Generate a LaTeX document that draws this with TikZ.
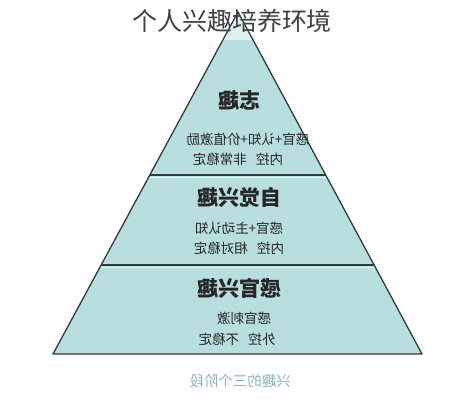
\documentclass[tikz,border=0pt]{standalone}
\usepackage{fontspec}
\usepackage{graphicx}
\usetikzlibrary{calc}
\newfontfamily\cjk{Noto Sans CJK SC}
\definecolor{tierfill}{HTML}{B9DEE0}
\definecolor{tiptint}{HTML}{DDEFF0}
\definecolor{edgecol}{HTML}{333B3B}
\definecolor{capcol}{HTML}{8DB3B6}
\newcommand{\mirr}[1]{\scalebox{-1}[1]{#1}}
\tikzset{
  heading/.style={font=\cjk\bfseries\fontsize{21}{24}\selectfont, text=black!85, inner sep=0pt},
  subline/.style={font=\cjk\fontsize{13.5}{15}\selectfont, text=black!85, inner sep=0pt},
  edgeline/.style={draw=edgecol, line width=1.3pt, line join=round},
  divline/.style={draw=edgecol, line width=1.2pt},
}
\begin{document}
\begin{tikzpicture}[x=1pt,y=-1pt]
\useasboundingbox (0,0) rectangle (464,400);
\coordinate (A) at (238,12);
\coordinate (BL) at (53,354);
\coordinate (BR) at (422,354);
\coordinate (L1) at ($(A)!0.4766!(BL)$);
\coordinate (R1) at ($(A)!0.4766!(BR)$);
\coordinate (L2) at ($(A)!0.7398!(BL)$);
\coordinate (R2) at ($(A)!0.7398!(BR)$);
\coordinate (LT) at ($(A)!0.0819!(BL)$);
\coordinate (RT) at ($(A)!0.0819!(BR)$);
\fill[tierfill] (A) -- (BL) -- (BR) -- cycle;
\fill[tiptint] (A) -- (LT) -- (RT) -- cycle;
% dividers
\draw[white, line width=1pt, opacity=0.7] ($(L1)+(0,2.2)$) -- ($(R1)+(0,2.2)$);
\draw[white, line width=1pt, opacity=0.7] ($(L2)+(0,2.2)$) -- ($(R2)+(0,2.2)$);
\draw[divline] (L1) -- (R1);
\draw[divline] (L2) -- (R2);
\draw[edgeline] (A) -- (BL) -- (BR) -- cycle;
% title
\node[font=\cjk\fontsize{25}{28}\selectfont, text=black!75, inner sep=0pt] (title) at (232,21) {个人兴趣培养环境};
% top tier
\node[heading] (h1) at (239,101) {\mirr{志趣}};
\node[subline] (s1a) at (248,139) {\mirr{感官+认知+价值激励}};
\node[subline] (s1b) at (238,159) {\mirr{内控\hspace{0.7em}非常稳定}};
% middle tier
\node[heading] (h2) at (239,197) {\mirr{自觉兴趣}};
\node[subline] (s2a) at (239,228) {\mirr{感官+主动认知}};
\node[subline] (s2b) at (239,248) {\mirr{内控\hspace{0.7em}相对稳定}};
% bottom tier
\node[heading] (h3) at (239,288) {\mirr{感官兴趣}};
\node[subline] (s3a) at (244,318) {\mirr{感官刺激}};
\node[subline] (s3b) at (237,339) {\mirr{外控\hspace{0.7em}不稳定}};
% caption
\node[font=\cjk\fontsize{14.5}{16}\selectfont, text=capcol, inner sep=0pt] (cap) at (240,381) {\mirr{兴趣的三个阶段}};
\end{tikzpicture}
\end{document}
